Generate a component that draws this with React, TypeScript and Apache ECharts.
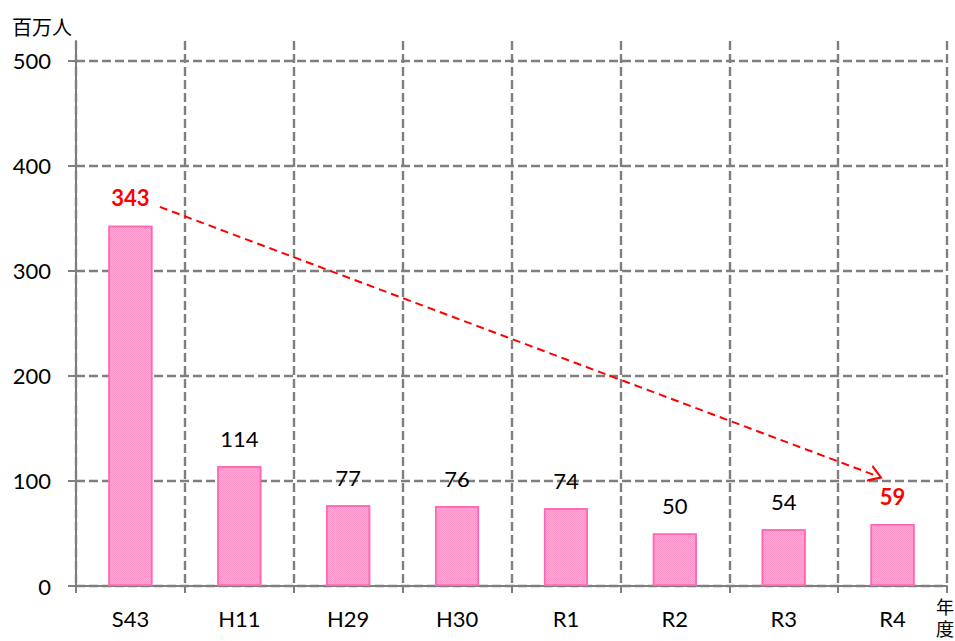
import React, { useEffect, useRef } from "react";
import * as echarts from "echarts";

const categories = ["S43", "H11", "H29", "H30", "R1", "R2", "R3", "R4"];
const values = [343, 114, 77, 76, 74, 50, 54, 59];
const highlighted = ["S43", "R4"];
const yTicks = [0, 100, 200, 300, 400, 500];
// trend arrow endpoints in data units: [category position, value]
const arrowStart = [0.27, 361];
const arrowEnd = [6.85, 105];

const FONT = "Lato, 'Noto Sans CJK JP', sans-serif";
const GRID_COLOR = "#7f7f7f";

export default function App() {
  const ref = useRef<HTMLDivElement>(null);
  useEffect(() => {
    if (!ref.current) return;
    const chart = echarts.init(ref.current, null, { renderer: "svg" });
    chart.setOption({
      animation: false,
      grid: { left: 76, right: 8, top: 41, bottom: 55, containLabel: false },
      graphic: [
        {
          type: "text",
          left: 12,
          top: 17,
          style: { text: "百万人", fontSize: 20, fontFamily: FONT, fill: "#000" },
        },
        {
          type: "text",
          right: 1,
          bottom: 1,
          style: { text: "年\n度", fontSize: 18, lineHeight: 22, fontFamily: FONT, fill: "#000" },
        },
      ],
      xAxis: [
        {
          type: "category",
          data: categories,
          boundaryGap: true,
          axisLine: { show: true, onZero: false, lineStyle: { color: GRID_COLOR, width: 2 } },
          axisTick: { show: true, length: 7, lineStyle: { color: GRID_COLOR, width: 2 } },
          axisLabel: { fontSize: 22, color: "#000", fontFamily: FONT, margin: 21 },
          splitLine: { show: true, lineStyle: { color: GRID_COLOR, width: 2.4, type: [9, 4] } },
        },
        {
          type: "value",
          min: -0.5,
          max: 7.5,
          show: false,
        },
      ],
      yAxis: {
        type: "value",
        min: 0,
        max: 519,
        interval: 100,
        axisLine: { show: true, onZero: false, lineStyle: { color: GRID_COLOR, width: 2 } },
        axisTick: { show: true, length: 8, customValues: yTicks, lineStyle: { color: GRID_COLOR, width: 2 } },
        axisLabel: { fontSize: 22, color: "#000", fontFamily: FONT, margin: 25, customValues: yTicks },
        splitLine: { show: true, lineStyle: { color: GRID_COLOR, width: 2.4, type: [9, 4] } },
      },
      series: [
        {
          type: "bar",
          xAxisIndex: 0,
          barWidth: 44,
          data: values.map((v, i) => {
            const hi = highlighted.includes(categories[i]);
            return {
              value: v,
              label: hi
                ? { color: "#ff0000", fontWeight: "bold" }
                : { color: "#000", fontWeight: "normal" },
            };
          }),
          itemStyle: {
            color: "#ff94c9",
            borderColor: "#ff66b3",
            borderWidth: 1.5,
            decal: {
              symbol: "rect",
              symbolSize: 1,
              dashArrayX: [[1, 1], [0, 1, 1, 0]],
              dashArrayY: [1, 0],
              color: "rgba(255,255,255,0.2)",
            },
          },
          label: {
            show: true,
            position: "top",
            distance: 17,
            fontSize: 22,
            fontFamily: FONT,
          },
        },
        {
          type: "line",
          xAxisIndex: 1,
          data: [],
          markLine: {
            silent: true,
            symbol: ["none", "path://M5,0 L10,10 L8.6,10 L5,2.8 L1.4,10 L0,10 Z"],
            symbolSize: [18, 14],
            label: { show: false },
            lineStyle: { color: "#ff0000", width: 2, type: [8, 5] },
            data: [[{ coord: arrowStart }, { coord: arrowEnd }]],
          },
        },
      ],
    });
    return () => chart.dispose();
  }, []);
  return <div ref={ref} style={{ width: 955, height: 641, position: "absolute", left: 0, top: 0 }} />;
}
